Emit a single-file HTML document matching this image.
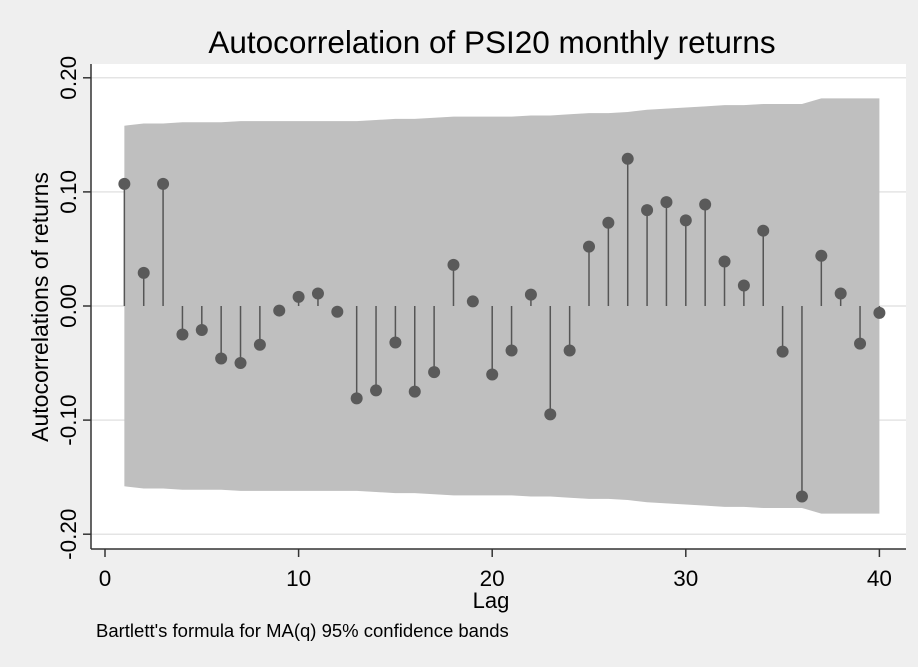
<!DOCTYPE html>
<html><head><meta charset="utf-8"><style>
body{margin:0;background:#efefef;}
svg{display:block;font-family:"Liberation Sans",Arial,sans-serif;}
</style></head><body>
<svg id="c" width="918" height="667">
<rect width="918" height="667" fill="#efefef"/>
<rect x="91" y="64" width="815" height="485" fill="#fff"/>
<text x="492" y="53" font-size="31.5" text-anchor="middle" fill="#000">Autocorrelation of PSI20 monthly returns</text>
<text x="491" y="608" font-size="22" text-anchor="middle">Lag</text>
<text transform="translate(48,307) rotate(-90)" font-size="23" text-anchor="middle">Autocorrelations of returns</text>
<text x="96" y="637" font-size="18.5">Bartlett's formula for MA(q) 95% confidence bands</text>
<g id="g"></g>
</svg>
<script>
const lags=[1,2,3,4,5,6,7,8,9,10,11,12,13,14,15,16,17,18,19,20,21,22,23,24,25,26,27,28,29,30,31,32,33,34,35,36,37,38,39,40];
const acf=[0.107,0.029,0.107,-0.025,-0.021,-0.046,-0.050,-0.034,-0.004,0.008,0.011,-0.005,-0.081,-0.074,-0.032,-0.075,-0.058,0.036,0.004,-0.060,-0.039,0.010,-0.095,-0.039,0.052,0.073,0.129,0.084,0.091,0.075,0.089,0.039,0.018,0.066,-0.040,-0.167,0.044,0.011,-0.033,-0.006];
const band=[0.158,0.160,0.160,0.161,0.161,0.161,0.162,0.162,0.162,0.162,0.162,0.162,0.162,0.163,0.164,0.164,0.165,0.166,0.166,0.166,0.166,0.167,0.167,0.168,0.169,0.169,0.170,0.172,0.173,0.174,0.175,0.176,0.176,0.177,0.177,0.177,0.182,0.182,0.182,0.182];
const yTicks=[-0.2,-0.1,0,0.1,0.2];
const yLabels=["-0.20","-0.10","0.00","0.10","0.20"];
const xTicks=[0,10,20,30,40];
const NS="http://www.w3.org/2000/svg";
const g=document.getElementById('g');
const X=v=>105+v*19.36;
const Y=v=>306-v*1141;
function mk(t,a){const e=document.createElementNS(NS,t);for(const k in a)e.setAttribute(k,a[k]);g.appendChild(e);return e;}
yTicks.forEach((t,i)=>{
 let e=mk('line',{x1:91,x2:906,y1:Y(t),y2:Y(t),stroke:'#e4e4e4','stroke-width':1.5});
 
 
 e=mk('line',{x1:83,x2:91,y1:Y(t),y2:Y(t),stroke:'#333','stroke-width':1.5});
 
 
 e=mk('text',{transform:`translate(76,${Y(t)}) rotate(-90)`,'font-size':22.5,'text-anchor':'middle'});
 e.textContent=yLabels[i];
 
 
});
let up=lags.map((l,i)=>X(l)+','+Y(band[i])).join(' ');
let dn=lags.slice().reverse().map((l,i)=>X(l)+','+Y(-band[lags.length-1-i])).join(' ');
let b=mk('polygon',{points:up+' '+dn,fill:'#bfbfbf'});


lags.forEach((l,i)=>{
 let e=mk('line',{x1:X(l),x2:X(l),y1:Y(0),y2:Y(acf[i]),stroke:'#555','stroke-width':1.5});
 
 
 e=mk('circle',{cx:X(l),cy:Y(acf[i]),r:6,fill:'#5a5a5a'});
 
 
});
let a=mk('line',{x1:91,x2:91,y1:64,y2:549,stroke:'#333','stroke-width':1.5});


a=mk('line',{x1:91,x2:906,y1:549,y2:549,stroke:'#333','stroke-width':1.5});


xTicks.forEach(t=>{
 let e=mk('line',{x1:X(t),x2:X(t),y1:549,y2:557,stroke:'#333','stroke-width':1.5});
 
 
 e=mk('text',{x:X(t),y:586,'font-size':22.5,'text-anchor':'middle'});
 e.textContent=t;
 
 
});
</script>
</body></html>
